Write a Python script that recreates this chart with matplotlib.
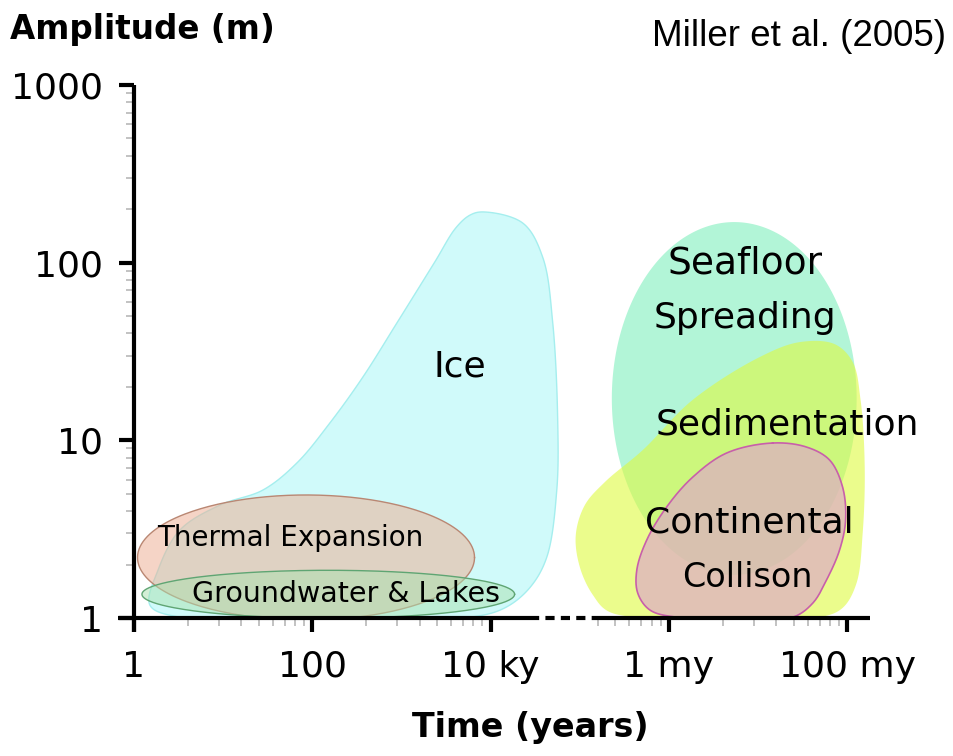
import numpy as np
import matplotlib
matplotlib.use("Agg")
import matplotlib.pyplot as plt
from matplotlib.ticker import LogLocator, NullFormatter, FixedLocator

# ---------------- data (time in years, amplitude in m) ----------------
x_major = [1, 1e2, 1e4, 1e6, 1e8]
x_labels = ["1", "100", "10 ky", "1 my", "100 my"]
y_major = [1, 10, 100, 1000]
y_labels = ["1", "10", "100", "1000"]

ice_time = [1.51, 1.86, 3.28, 9.2, 27.9, 67, 157, 369, 887, 2368, 4074, 5848, 8185,
            22960, 38460, 49770, 56620, 55210, 42660, 27480, 14420, 5848, 72.6, 3.28]
ice_amp = [1.18, 1.86, 3.13, 4.32, 5.25, 7.45, 12.5, 22.7, 45.7, 101, 157, 185, 193,
           167, 107, 45.7, 12.5, 5.25, 2.20, 1.48, 1.14, 1.01, 0.99, 1.01]

sed_time = [2.92e7, 7.22e7, 1.15e8, 1.41e8, 1.57e8, 1.49e8, 1.27e8, 8.87e7, 4.91e7, 2.21e6,
            2.17e5, 1.40e5, 1.0e5, 9.02e4, 1.14e5, 1.91e5, 5.08e5, 1.85e6, 1.04e7]
sed_amp = [35.7, 34.8, 27.6, 16.9, 7.08, 3.01, 1.57, 1.14, 1.01, 1.0,
           1.08, 1.35, 1.94, 2.93, 4.32, 5.82, 8.81, 16.9, 29.4]

coll_time = [1.46e7, 3.51e7, 6.35e7, 8.87e7, 9.59e7, 8.22e7, 5.87e7, 4.09e7, 2.44e7,
             7.45e6, 1.22e6, 6.10e5, 4.47e5, 4.36e5, 5.64e5, 9.44e5, 1.85e6, 4.45e6]
coll_amp = [9.66, 9.16, 7.74, 5.46, 3.56, 2.42, 1.64, 1.21, 1.01,
            1.0, 1.01, 1.11, 1.38, 1.86, 2.75, 4.22, 6.21, 8.49]

# ellipses in log space: centre time, centre amplitude, half-width (decades), half-height (decades)
thermal = (85, 2.19, 1.89, 0.352)
ground = (151, 1.36, 2.09, 0.135)
seafloor = (5.4e6, 17.2, 1.373, 0.993)

labels = [
    ("Ice", 4500, 25.9, 26),
    ("Thermal Expansion", 56, 2.82, 20),
    ("Groundwater & Lakes", 238, 1.36, 20.5),
    ("Seafloor", 7.1e6, 99.5, 27),
    ("Spreading", 7.1e6, 48.8, 26),
    ("Sedimentation", 2.15e7, 12.2, 26),
    ("Continental", 8.05e6, 3.43, 26),
    ("Collison", 7.64e6, 1.70, 24),
]


def closed_spline(xs, ys, n=30):
    """Centripetal Catmull-Rom through the points, built in log space
    (y scaled by the aspect of a decade so spacing is near-isotropic)."""
    sy = 2.0
    P = np.column_stack([np.log10(xs), np.log10(ys) * sy])
    m = len(P)
    out = []
    for i in range(m):
        p0, p1, p2, p3 = P[i - 1], P[i], P[(i + 1) % m], P[(i + 2) % m]
        t0 = 0.0
        t1 = t0 + np.linalg.norm(p1 - p0) ** 0.5 + 1e-9
        t2 = t1 + np.linalg.norm(p2 - p1) ** 0.5 + 1e-9
        t3 = t2 + np.linalg.norm(p3 - p2) ** 0.5 + 1e-9
        t = np.linspace(t1, t2, n, endpoint=False)[:, None]
        a1 = (t1 - t) / (t1 - t0) * p0 + (t - t0) / (t1 - t0) * p1
        a2 = (t2 - t) / (t2 - t1) * p1 + (t - t1) / (t2 - t1) * p2
        a3 = (t3 - t) / (t3 - t2) * p2 + (t - t2) / (t3 - t2) * p3
        b1 = (t2 - t) / (t2 - t0) * a1 + (t - t0) / (t2 - t0) * a2
        b2 = (t3 - t) / (t3 - t1) * a2 + (t - t1) / (t3 - t1) * a3
        c = (t2 - t) / (t2 - t1) * b1 + (t - t1) / (t2 - t1) * b2
        out.append(c)
    out = np.vstack(out + [out[0][:1]])
    return 10 ** out[:, 0], 10 ** (out[:, 1] / sy)


def log_ellipse(params, n=300):
    ct, ca, rt, ra = params
    th = np.linspace(0, 2 * np.pi, n)
    return (10 ** (np.log10(ct) + rt * np.cos(th)),
            10 ** (np.log10(ca) + ra * np.sin(th)))


def rgb(r, g, b):
    return (r / 255, g / 255, b / 255)


fig = plt.figure(figsize=(9.54, 7.56), dpi=100)
ax = fig.add_axes([134 / 954, 138 / 756, 736 / 954, 533 / 756])
ax.set_xscale("log")
ax.set_yscale("log")
ax.set_xlim(1, 1.8e8)
ax.set_ylim(1, 1000)

# shapes
x, y = closed_spline(ice_time, ice_amp)
ax.fill(x, y, facecolor=rgb(208, 250, 250), edgecolor=rgb(165, 238, 238), lw=1.0, zorder=1)
x, y = log_ellipse(thermal)
ax.fill(x, y, facecolor=rgb(237, 177, 151), alpha=0.55, edgecolor="none", zorder=2)
ax.plot(x, y, color=rgb(185, 135, 115), lw=1.0, zorder=2)
x, y = log_ellipse(ground)
ax.fill(x, y, facecolor=rgb(169, 225, 175), alpha=0.5, edgecolor="none", zorder=3)
ax.plot(x, y, color=rgb(95, 165, 115), lw=1.0, zorder=3)

x, y = log_ellipse(seafloor)
ax.fill(x, y, facecolor=rgb(178, 245, 215), edgecolor="none", zorder=1)
x, y = closed_spline(sed_time, sed_amp)
ax.fill(x, y, facecolor=rgb(222, 250, 63), alpha=0.6, edgecolor="none", zorder=2)
x, y = closed_spline(coll_time, coll_amp)
ax.fill(x, y, facecolor=rgb(222, 172, 196), alpha=0.72, edgecolor="none", zorder=3)
ax.plot(x, y, color=rgb(200, 95, 170), lw=1.2, zorder=3)

for txt, tx, ty, fs in labels:
    ax.text(tx, ty, txt, ha="center", va="center", fontsize=fs,
            family="DejaVu Sans", color="black", zorder=6)

# axes lines
for s in ax.spines.values():
    s.set_visible(False)
ax.plot([0.66, 2.75e4], [1, 1], color="black", lw=3, solid_capstyle="butt",
        clip_on=False, zorder=5)
ax.plot([2.75e4, 1.47e5], [1, 1], color="black", lw=3, linestyle=(0, (2.2, 1.5)),
        clip_on=False, zorder=5)
ax.plot([1.47e5, 1.8e8], [1, 1], color="black", lw=3, solid_capstyle="butt",
        clip_on=False, zorder=5)
ax.plot([1, 1], [0.83, 1000], color="black", lw=3, solid_capstyle="butt",
        clip_on=False, zorder=5)

# ticks
ax.xaxis.set_major_locator(FixedLocator(x_major))
ax.set_xticklabels(x_labels)
minor_x = [k ** 2 * 100 ** n for n in range(4) for k in range(2, 10)]
minor_x = [v for v in minor_x if (v < 2.75e4) or (1.47e5 < v < 1.8e8)]
ax.xaxis.set_minor_locator(FixedLocator(minor_x))
ax.xaxis.set_minor_formatter(NullFormatter())
ax.yaxis.set_major_locator(FixedLocator(y_major))
ax.set_yticklabels(y_labels)
ax.yaxis.set_minor_locator(LogLocator(base=10, subs=range(2, 10)))
ax.yaxis.set_minor_formatter(NullFormatter())

ax.tick_params(axis="x", which="major", direction="out", length=10, width=3,
               pad=13, labelsize=26, colors="black")
ax.tick_params(axis="y", which="major", direction="out", length=11, width=3,
               pad=11, labelsize=26, colors="black")
ax.tick_params(which="minor", direction="out", length=6, width=1.2, color="#b8b8b8")
for lab in ax.get_xticklabels() + ax.get_yticklabels():
    lab.set_family("DejaVu Sans")

fig.text(10 / 954, 1 - 30 / 756, "Amplitude (m)", ha="left", va="center",
         fontsize=23.5, fontweight="bold", family="DejaVu Sans")
fig.text(530 / 954, 1 - 727 / 756, "Time (years)", ha="center", va="center",
         fontsize=24, fontweight="bold", family="DejaVu Sans")
fig.text(946 / 954, 1 - 36 / 756, "Miller et al. (2005)", ha="right", va="center",
         fontsize=26.5, family="Liberation Sans")

fig.savefig("out.png", dpi=100)
